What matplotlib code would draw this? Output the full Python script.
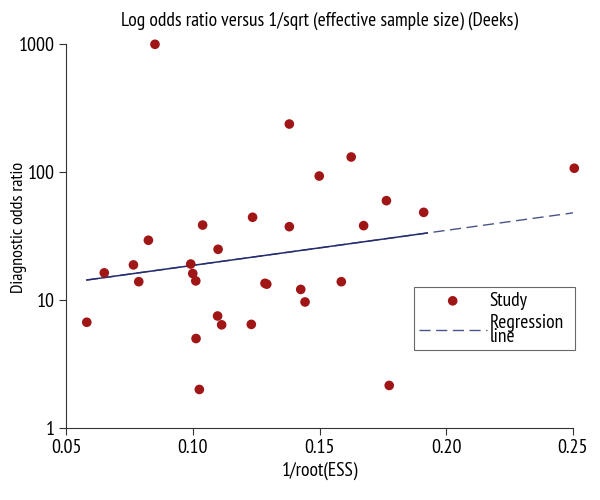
import numpy as np
import matplotlib
matplotlib.use("Agg")
import matplotlib.pyplot as plt

plt.rcParams['font.family'] = ['PT Sans Narrow', 'DejaVu Sans']

## Data
# 1/sqrt(effective sample size) of each study
inv_root_ess = [0.0582, 0.0651, 0.0766, 0.0787, 0.0825, 0.0851, 0.0992, 0.1000,
                0.1012, 0.1013, 0.1026, 0.1039, 0.1098, 0.1100, 0.1114, 0.1231,
                0.1236, 0.1285, 0.1292, 0.1381, 0.1381, 0.1426, 0.1443, 0.1499,
                0.1586, 0.1625, 0.1674, 0.1764, 0.1775, 0.1911, 0.2505]
# diagnostic odds ratio of each study
dor = [6.7, 16.3, 18.8, 13.9, 29.3, 995, 19.1, 16.1,
       14.1, 5.0, 2.0, 38.5, 7.5, 24.9, 6.4, 6.45,
       44.3, 13.5, 13.3, 237, 37.4, 12.1, 9.65, 93,
       13.9, 131, 38.1, 59.7, 2.15, 48.4, 107]
# regression line: log10(DOR) = a + b * x
reg_a = 0.997
reg_b = 2.735
reg_solid_end = 0.1925

x_ticks = [0.05, 0.10, 0.15, 0.20, 0.25]
x_ticklabels = ['0.05', '0.10', '0.15', '0.20', '0.25']
y_ticks = [1, 10, 100, 1000]
y_ticklabels = ['1', '10', '100', '1000']

## Figure
fig = plt.figure(figsize=(6, 5), dpi=100)
ax = fig.add_axes([0.11, 0.144, 0.845, 0.768])

x0, x1 = min(inv_root_ess), max(inv_root_ess)
xs = np.array([x0, x1])
reg, = ax.plot(xs, 10 ** (reg_a + reg_b * xs), color='#4a5488', lw=1, ls=(0, (8, 4)),
               zorder=2)
xs_solid = np.array([x0, reg_solid_end])
ax.plot(xs_solid, 10 ** (reg_a + reg_b * xs_solid), color='#262c6e', lw=1.1, zorder=3)
pts = ax.scatter(inv_root_ess, dor, s=48, color='#a01616', edgecolors='none',
                 zorder=4, clip_on=False)

ax.set_yscale('log')
ax.set_xlim(0.05, 0.25)
ax.set_ylim(1, 1000)
ax.set_xticks(x_ticks)
ax.set_xticklabels(x_ticklabels)
ax.set_yticks(y_ticks)
ax.set_yticklabels(y_ticklabels)
ax.yaxis.set_minor_locator(matplotlib.ticker.NullLocator())
ax.tick_params(labelsize=14.5, length=5, width=0.8, color='#333333', pad=3)
for s in ['top', 'right']:
    ax.spines[s].set_visible(False)
for s in ['left', 'bottom']:
    ax.spines[s].set_color('#333333')
    ax.spines[s].set_linewidth(0.8)

ax.set_title('Log odds ratio versus 1/sqrt (effective sample size) (Deeks)',
             fontsize=14, pad=13)
ax.set_xlabel('1/root(ESS)', fontsize=14, labelpad=3)
ax.set_ylabel('Diagnostic odds ratio', fontsize=13)
ax.yaxis.set_label_coords(-0.077, 0.523)

leg = ax.legend([pts, reg], ['Study', 'Regression\nline'],
                loc='upper left', bbox_to_anchor=(0.686, 0.207, 0.318, 0.16),
                mode='expand', fontsize=14, frameon=True, fancybox=False,
                handlelength=3.5, handletextpad=0.15, borderpad=0.25,
                labelspacing=0.2, borderaxespad=0)
leg.get_frame().set_edgecolor('#444444')
leg.get_frame().set_linewidth(0.8)
for t in leg.get_texts():
    t.set_linespacing(0.7)

fig.savefig('out.png', dpi=100)
